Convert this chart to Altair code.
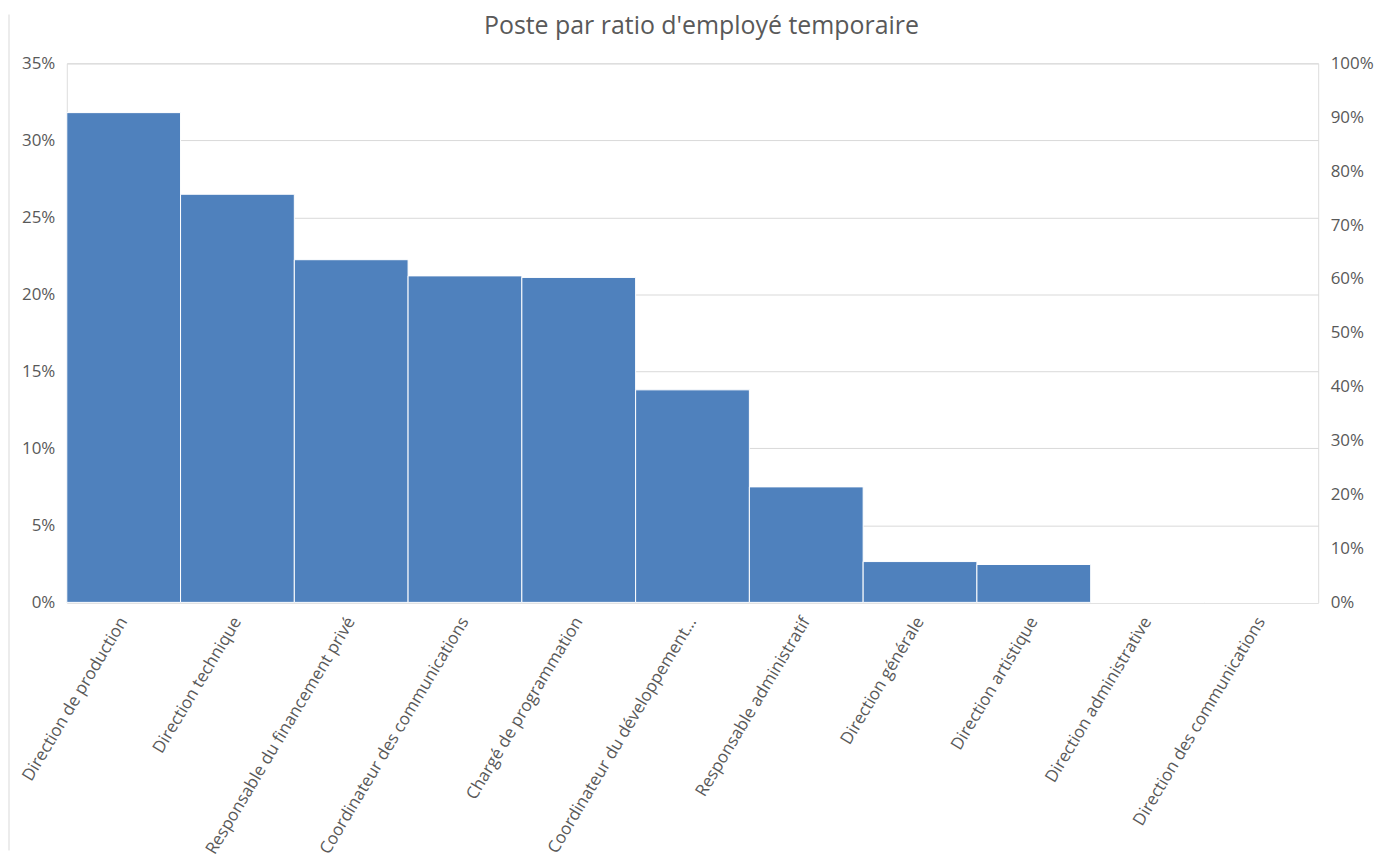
import altair as alt
import pandas as pd

categories = [
    "Direction de production",
    "Direction technique",
    "Responsable du financement privé",
    "Coordinateur des communications",
    "Chargé de programmation",
    "Coordinateur du développement…",
    "Responsable administratif",
    "Direction générale",
    "Direction artistique",
    "Direction administrative",
    "Direction des communications",
]
ratios = [0.318, 0.265, 0.2225, 0.212, 0.211, 0.138, 0.075, 0.0265, 0.0246, 0.0, 0.0]
left_ticks = [0, 0.05, 0.10, 0.15, 0.20, 0.25, 0.30, 0.35]
right_ticks = [0, 0.1, 0.2, 0.3, 0.4, 0.5, 0.6, 0.7, 0.8, 0.9, 1.0]
title_text = ["Poste par ratio d'employé temporaire"]

FONT = "Open Sans"
GREY_TXT = "#595959"
GRID = "#d9d9d9"

df = pd.DataFrame({"poste": categories, "ratio": ratios})

xenc = alt.X(
    "poste:N",
    sort=categories,
    scale=alt.Scale(paddingInner=0, paddingOuter=0),
    axis=alt.Axis(
        title=None, labelAngle=-59, labelFontSize=17, labelColor=GREY_TXT,
        labelFont=FONT, labelLimit=500, ticks=False, domainColor=GRID,
        labelPadding=16, labelAlign="right", labelBaseline="middle",
    ),
)

bars = alt.Chart(df).mark_bar(color="#4f81bd", stroke="#ffffff", strokeWidth=1).encode(
    x=xenc,
    y=alt.Y(
        "ratio:Q",
        scale=alt.Scale(domain=[0, 0.35], nice=False),
        axis=alt.Axis(
            values=left_ticks, format=".0%", title=None, orient="left",
            grid=True, gridColor=GRID, domain=False, ticks=False,
            labelFontSize=17, labelColor=GREY_TXT, labelFont=FONT, labelPadding=12,
        ),
    ),
)

right = alt.Chart(df).mark_point(opacity=0).encode(
    x=xenc,
    y=alt.Y(
        "ratio:Q",
        scale=alt.Scale(domain=[0, 1], nice=False),
        axis=alt.Axis(
            values=right_ticks, format=".0%", title=None, orient="right",
            grid=False, domain=False, ticks=False,
            labelFontSize=17, labelColor=GREY_TXT, labelFont=FONT, labelPadding=12,
        ),
    ),
)

border = alt.Chart(pd.DataFrame({"a": [0]})).mark_rule(color=GRID, strokeWidth=1).encode(
    x=alt.value(-58), y=alt.value(-49), y2=alt.value(790)
)

title = alt.Chart(pd.DataFrame({"t": title_text})).mark_text(
    font=FONT, fontSize=25, color=GREY_TXT, align="center", baseline="alphabetic"
).encode(text="t:N", x=alt.value(637), y=alt.value(-29))

chart = (
    alt.layer(bars, right, border, title)
    .resolve_scale(y="independent")
    .properties(
        width=1256,
        height=541,
        padding={"left": 0, "top": 4, "right": 0, "bottom": 0},
    )
    .configure_view(stroke=GRID, strokeWidth=1)
    .configure(background="white")
)

chart.save("out.html", embed_options={"renderer": "svg", "actions": False})
